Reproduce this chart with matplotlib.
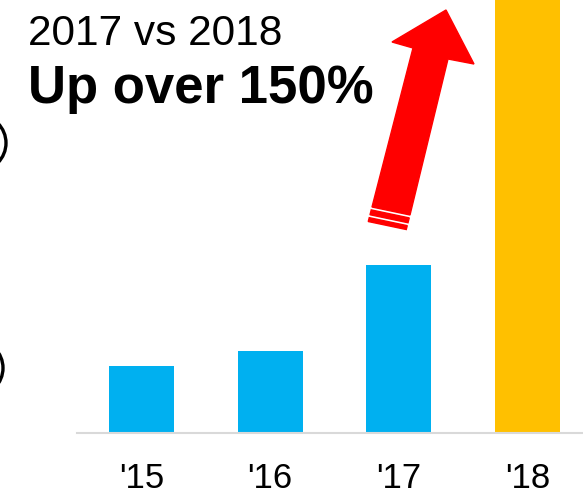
import numpy as np
import matplotlib
matplotlib.use('Agg')
import matplotlib.pyplot as plt
from matplotlib.patches import Polygon, Circle

plt.rcParams['font.family'] = ['Liberation Sans', 'DejaVu Sans']

# data (relative units, 2017 = 100)
years = ["'15", "'16", "'17", "'18"]
values = [40, 49, 100, 262]
colors = ['#00B0F0', '#00B0F0', '#00B0F0', '#FFC000']

W, H = 583, 492
fig = plt.figure(figsize=(W / 100, H / 100), dpi=100)
ax = fig.add_axes([77 / W, 59 / H, 1 - 77 / W, 1 - 59 / H])

x = np.arange(len(years))
ax.bar(x, values, width=0.505, color=colors)
ax.set_xlim(-0.5, 3.43)
ax.set_ylim(0, 258)
ax.set_xticks(x, years)
ax.set_yticks([])
ax.tick_params(axis='x', length=0, pad=21, labelsize=25)
for s in ['top', 'left', 'right']:
    ax.spines[s].set_visible(False)
ax.spines['bottom'].set_color('#D9D9D9')
ax.spines['bottom'].set_linewidth(1.5)

# headline text
fig.text(28 / W, 1 - 45 / H, '2017 vs 2018', fontsize=30.5, va='baseline')
fig.text(28 / W, 1 - 103 / H, 'Up over 150%', fontsize=38,
         fontweight='bold', va='baseline')


# red arrow, built in pixel coords (y down) then flipped
def px(pts):
    return [(a, H - b) for a, b in pts]


base_l, base_r = np.array([372, 207]), np.array([410, 215])
shaft_l, shaft_r = np.array([413, 48]), np.array([448, 59])
arrow = [tuple(base_l), tuple(shaft_l), (392, 42), (446, 10), (474, 64),
         tuple(shaft_r), tuple(base_r)]
fig.patches.append(Polygon(px(arrow), closed=True, color='#FF0000',
                           transform=None, figure=fig))
u = (shaft_l - base_l) / np.linalg.norm(shaft_l - base_l)
for a, b in [(3, 8), (11, 15)]:
    stripe = [base_l - a * u, base_r - a * u, base_r - b * u, base_l - b * u]
    fig.patches.append(Polygon(px([tuple(p) for p in stripe]), closed=True,
                               color='#FF0000', transform=None, figure=fig))

# partial circles at left edge
for cx, cy in [(-22, 143), (-25, 368)]:
    fig.patches.append(Circle((cx, H - cy), 28, fill=False, lw=2.4,
                              ec='black', transform=None, figure=fig))

fig.savefig('out.png', dpi=100)
